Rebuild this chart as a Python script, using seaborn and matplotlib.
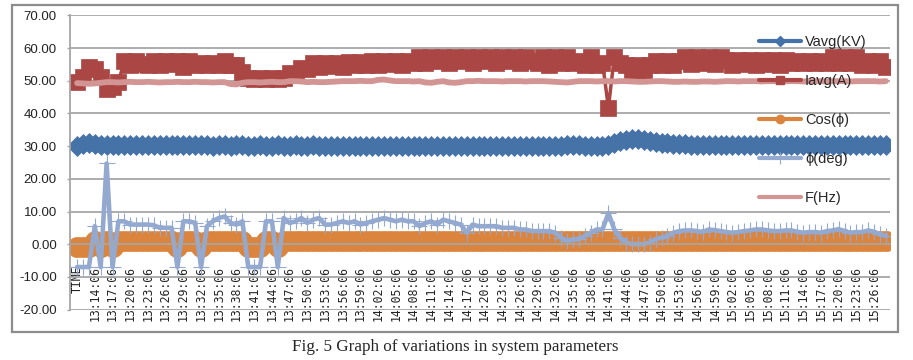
import numpy as np
import matplotlib
matplotlib.use("Agg")
import matplotlib.pyplot as plt
import seaborn as sns
from matplotlib.lines import Line2D
from matplotlib.patches import Rectangle

# categories: header row "TIME" then one reading per minute 13:12:06 .. 15:28:06
times = ["TIME"] + ["%d:%02d:06" % (13 + (12 + m) // 60, (12 + m) % 60) for m in range(137)]

vavg = [30.2, 30.6, 31.0, 30.8, 30.5, 30.4, 30.4, 30.3, 30.4, 30.3,
        30.3, 30.4, 30.3, 30.3, 30.4, 30.3, 30.3, 30.4, 30.3, 30.3,
        30.4, 30.3, 30.3, 30.2, 30.3, 30.3, 30.2, 30.3, 30.3, 30.2,
        30.2, 30.3, 30.2, 30.2, 30.3, 30.2, 30.2, 30.3, 30.2, 30.2,
        30.3, 30.2, 30.2, 30.1, 30.2, 30.2, 30.1, 30.2, 30.1, 30.1,
        30.2, 30.1, 30.1, 30.2, 30.1, 30.1, 30.1, 30.2, 30.1, 30.1,
        30.0, 30.1, 30.1, 30.0, 30.1, 30.0, 30.1, 30.0, 30.0, 30.1,
        30.0, 30.0, 30.1, 30.0, 30.0, 30.1, 30.0, 30.1, 30.0, 30.0,
        30.1, 30.1, 30.2, 30.3, 30.4, 30.3, 30.2, 30.1, 30.0, 30.0,
        30.3, 31.0, 31.6, 32.0, 32.2, 32.1, 31.9, 31.6, 31.3, 31.1,
        30.9, 30.8, 30.7, 30.6, 30.5, 30.5, 30.4, 30.4, 30.5, 30.4,
        30.4, 30.3, 30.4, 30.4, 30.3, 30.4, 30.4, 30.3, 30.4, 30.4,
        30.3, 30.4, 30.3, 30.4, 30.4, 30.3, 30.4, 30.4, 30.3, 30.4,
        30.4, 30.3, 30.4, 30.4, 30.4, 30.5, 30.4, 30.5]

iavg = [49.6, 51.2, 54.3, 53.5, 51.2, 47.5, 48.0, 49.6, 56.1, 54.7,
        56.1, 55.3, 54.7, 56.1, 54.7, 56.1, 55.3, 56.1, 54.2, 56.1,
        54.7, 55.6, 54.7, 55.6, 54.9, 56.1, 54.7, 54.8, 52.7, 50.9,
        50.5, 50.9, 50.5, 50.9, 50.5, 50.9, 52.3, 52.0, 53.8, 53.5,
        55.5, 54.2, 55.5, 54.4, 55.5, 54.2, 55.8, 54.7, 55.8, 54.7,
        56.1, 54.7, 56.1, 55.2, 56.1, 54.7, 56.1, 55.6, 57.3, 55.6,
        57.3, 56.1, 57.3, 55.6, 57.3, 56.1, 57.3, 55.6, 57.3, 56.1,
        57.3, 55.6, 57.3, 56.1, 57.3, 55.6, 57.3, 56.1, 55.6, 57.3,
        54.7, 57.3, 55.6, 57.3, 55.6, 56.1, 54.7, 57.3, 54.7, 55.6,
        41.8, 57.3, 55.6, 54.8, 52.1, 54.8, 52.6, 54.8, 56.1, 54.7,
        56.1, 54.7, 56.1, 57.3, 55.2, 57.3, 55.6, 57.3, 55.2, 57.3,
        56.3, 54.7, 56.3, 55.2, 56.3, 54.7, 56.3, 55.2, 56.3, 54.7,
        56.3, 55.6, 56.1, 55.6, 56.1, 55.6, 56.1, 55.6, 57.3, 55.6,
        57.3, 55.6, 57.3, 54.7, 56.1, 54.7, 56.1, 54.2]

cosphi = [-0.99, -0.99, -0.99, 0.99, -0.99, 0.99, -0.99, 0.99, 0.99, 0.99,
          0.99, 0.99, 0.99, 0.99, 0.99, 0.99, 0.99, -0.99, 0.99, 0.99,
          0.99, -0.99, 0.99, 0.99, 0.99, 0.99, 0.99, 0.99, 0.99, -0.99,
          -0.99, -0.99, 0.99, 0.99, -0.99, 0.99, 0.99, 0.99, 0.99, 0.99,
          0.99, 0.99, 0.99, 0.99, 0.99, 0.99, 0.99, 0.99, 0.99, 0.99,
          0.99, 0.99, 0.99, 0.99, 0.99, 0.99, 0.99, 0.99, 0.99, 0.99,
          0.99, 0.99, 0.99, 0.99, 0.99, 0.99, 0.99, 0.99, 0.99, 0.99,
          0.99, 0.99, 0.99, 0.99, 0.99, 0.99, 0.99, 0.99, 0.99, 0.99,
          0.99, 0.99, 0.99, 0.99, 0.99, 0.99, 0.99, 0.99, 0.99, 0.99,
          0.99, 0.99, 0.99, 0.99, 0.99, 0.99, 0.99, 0.99, 0.99, 0.99,
          0.99, 0.99, 0.99, 0.99, 0.99, 0.99, 0.99, 0.99, 0.99, 0.99,
          0.99, 0.99, 0.99, 0.99, 0.99, 0.99, 0.99, 0.99, 0.99, 0.99,
          0.99, 0.99, 0.99, 0.99, 0.99, 0.99, 0.99, 0.99, 0.99, 0.99,
          0.99, 0.99, 0.99, 0.99, 0.99, 0.99, 0.99, 0.99]

phi = [-7.0, -7.0, -7.0, 5.5, -7.0, 24.7, -7.0, 7.0, 7.0, 6.0,
       6.0, 6.0, 6.0, 5.8, 5.0, 5.0, 5.0, -7.0, 7.0, 7.0,
       6.5, -7.0, 5.5, 7.0, 8.0, 8.5, 6.5, 6.0, 7.0, -7.0,
       -7.0, -7.0, 7.0, 7.0, -7.0, 8.0, 6.5, 7.0, 8.0, 6.5,
       7.5, 8.0, 6.0, 6.0, 6.5, 7.0, 6.5, 7.0, 6.0, 6.5,
       7.0, 7.5, 8.0, 7.5, 7.0, 7.5, 7.0, 7.0, 5.5, 6.5,
       7.0, 6.0, 7.5, 7.0, 6.5, 6.0, 3.5, 6.0, 5.5, 5.5,
       5.5, 5.5, 5.0, 5.0, 5.0, 4.5, 4.5, 4.0, 4.0, 4.0,
       4.0, 3.5, 2.0, 1.0, 1.5, 1.5, 2.5, 3.5, 4.5, 4.5,
       9.5, 4.5, 2.0, 0.5, 0.0, 0.0, 0.0, 0.5, 1.5, 2.0,
       2.5, 3.5, 4.0, 4.2, 4.2, 4.0, 3.7, 4.5, 4.3, 4.0,
       3.7, 3.5, 3.7, 4.0, 4.2, 4.5, 4.5, 4.2, 4.0, 4.0,
       4.2, 4.2, 3.8, 3.5, 3.7, 3.7, 3.5, 4.0, 4.2, 4.6,
       4.0, 3.5, 3.7, 3.7, 4.2, 3.8, 3.0, 2.5]

freq = [49.3, 49.2, 49.1, 49.2, 49.4, 49.6, 49.6, 49.5, 49.6, 49.7,
        49.6, 49.6, 49.7, 49.6, 49.5, 49.6, 49.6, 49.7, 49.6, 49.6,
        49.7, 49.6, 49.6, 49.5, 49.6, 49.6, 49.0, 48.9, 49.4, 49.6,
        49.6, 49.5, 49.6, 49.7, 49.6, 49.6, 49.9, 49.9, 49.8, 49.6,
        49.7, 49.6, 49.6, 49.7, 49.8, 49.9, 49.9, 49.9, 50.0, 49.9,
        49.9, 50.3, 50.4, 50.1, 49.9, 49.9, 49.9, 49.8, 49.9, 49.5,
        49.4, 49.7, 49.9, 49.5, 49.4, 49.6, 49.9, 49.9, 50.0, 49.9,
        49.9, 49.9, 49.8, 49.9, 49.9, 49.9, 49.8, 49.9, 49.9, 49.9,
        49.8, 49.7, 49.6, 49.5, 49.7, 49.9, 49.9, 49.9, 49.8, 49.9,
        49.9, 49.8, 49.9, 49.9, 49.8, 49.7, 49.7, 49.8, 49.9, 49.9,
        49.8, 49.7, 49.7, 49.8, 49.7, 49.7, 49.8, 49.8, 49.7, 49.8,
        49.9, 49.9, 49.8, 49.9, 49.9, 49.9, 49.8, 49.9, 49.9, 49.8,
        49.9, 49.9, 49.9, 49.8, 49.9, 49.9, 49.9, 49.8, 49.9, 49.9,
        49.9, 49.8, 49.9, 49.9, 49.9, 49.9, 49.8, 49.9]

labels = ["Vavg(KV)", "Iavg(A)", "Cos(\u03d5)", "\u03d5(deg)", "F(Hz)"]
colors = ["#4572A7", "#AA4643", "#DB843D", "#93A9CF", "#D39593"]

sns.set_theme(style="white")
plt.rcParams['font.family'] = ['Liberation Sans', 'DejaVu Sans']

fig = plt.figure(figsize=(9.13, 3.6), dpi=100)
fig.patches.append(Rectangle((12 / 913, 28 / 360), 886 / 913, 327 / 360,
                             transform=fig.transFigure, fill=False,
                             edgecolor="#8c8c8c", linewidth=1.6))
ax = fig.add_axes([70 / 913, 50 / 360, 820 / 913, 295 / 360])

x = np.arange(len(times))
# series drawn in the workbook order
sns.lineplot(x=x, y=vavg, ax=ax, color=colors[0], lw=2, marker="D", markersize=9.7,
             markeredgecolor=colors[0], markeredgewidth=0.5, errorbar=None, legend=False)
sns.lineplot(x=x, y=iavg, ax=ax, color=colors[1], lw=2.5, marker="s", markersize=11.5,
             markeredgecolor=colors[1], markeredgewidth=0.5, errorbar=None, legend=False)
sns.lineplot(x=x, y=cosphi, ax=ax, color=colors[2], lw=2, marker="o", markersize=14.5,
             markeredgecolor=colors[2], markeredgewidth=0.5, errorbar=None, legend=False)
sns.lineplot(x=x, y=phi, ax=ax, color=colors[3], lw=3.3, marker="+", markersize=12,
             markeredgecolor=colors[3], markeredgewidth=0.8, errorbar=None, legend=False)
sns.lineplot(x=x, y=freq, ax=ax, color=colors[4], lw=4.2, errorbar=None, legend=False)

# category axis crosses the value axis at 0
for side in ["right", "top"]:
    ax.spines[side].set_visible(False)
ax.spines["bottom"].set_position(("data", 0))
ax.spines["bottom"].set_color("#a6a6a6")
ax.spines["bottom"].set_linewidth(1.3)
ax.spines["left"].set_color("#a6a6a6")
ax.spines["left"].set_linewidth(1.3)

ax.set_xlim(-1.2, 137.7)
ax.set_ylim(-20.15, 70.15)
yt = np.arange(-20, 71, 10)
ax.set_yticks(yt)
ax.set_yticklabels(["%.2f" % v for v in yt], fontsize=9.5, color="#222222")
ax.set_xticks(x[::3])
ax.set_xticklabels(times[::3], rotation=90, fontsize=8.3, color="#222222",
                   fontfamily="DejaVu Sans Mono")
ax.tick_params(axis="x", length=0, pad=15.5)
ax.tick_params(axis="y", length=2.5, width=1, color="#a6a6a6", pad=7, left=True)
ax.set_xlabel("")
ax.set_ylabel("")
ax.yaxis.grid(True, color="#a6a6a6", lw=1.3)
ax.xaxis.grid(False)
ax.set_axisbelow(True)

handles = [
    Line2D([], [], color=colors[0], lw=3, marker="D", ms=5, mec=colors[0]),
    Line2D([], [], color=colors[1], lw=3, marker="s", ms=6, mec=colors[1]),
    Line2D([], [], color=colors[2], lw=3, marker="o", ms=6, mec=colors[2]),
    Line2D([], [], color=colors[3], lw=3, marker="+", ms=8, mew=0.8, mec=colors[3]),
    Line2D([], [], color=colors[4], lw=3),
]
ax.legend(handles, labels, loc="upper left", bbox_to_anchor=(759 / 913, 1 - 35 / 360),
          bbox_transform=fig.transFigure, frameon=False, fontsize=10.5,
          handlelength=2.9, handletextpad=0.25, labelspacing=1.72,
          borderpad=0, borderaxespad=0)

fig.text(455 / 913, 13 / 360, "Fig. 5 Graph of variations in system parameters",
         ha="center", va="center", fontsize=12.3, family="Liberation Serif")

fig.savefig("out.png", dpi=100)
